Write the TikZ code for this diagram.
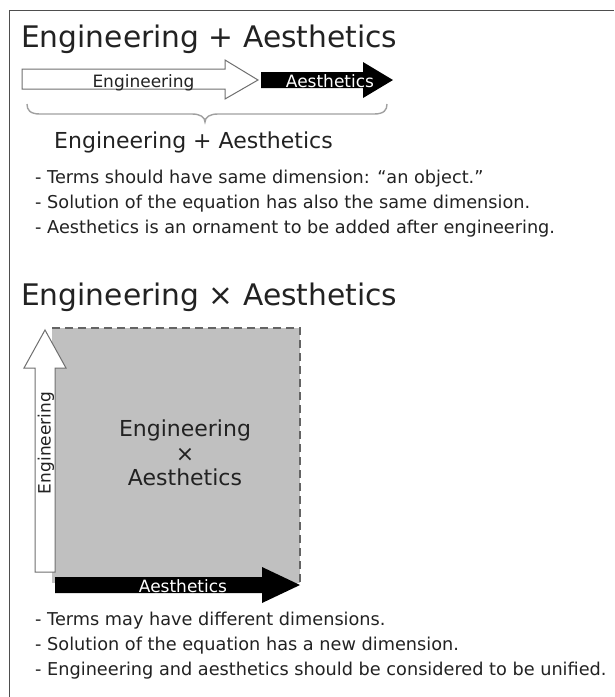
\documentclass[tikz,border=0pt]{standalone}
\usepackage{fontspec}
\setmainfont{DejaVu Sans}
\definecolor{ink}{HTML}{222222}
\definecolor{sqgray}{HTML}{C0C0C0}
\definecolor{bracegray}{HTML}{A0A0A0}
\tikzset{
  frameline/.style={draw=ink!80, line width=1.4pt},
  title/.style={inner sep=0pt, anchor=base west, text=ink, font=\fontsize{29.7}{32}\selectfont},
  subtitle/.style={inner sep=0pt, text=ink, font=\fontsize{22}{24.5}\selectfont},
  bullet/.style={inner sep=0pt, anchor=base west, text=ink, font=\fontsize{17.7}{20}\selectfont},
  lbl/.style={inner sep=0pt, font=\fontsize{17}{19}\selectfont},
  whitearrow/.style={draw=ink!65, fill=white, line width=1pt, line join=miter},
  blackarrow/.style={fill=black},
  bracestyle/.style={draw=bracegray, line width=1.4pt},
  sqbox/.style={fill=sqgray},
  sqborder/.style={draw=ink!70, line width=1.5pt, dash pattern=on 8pt off 5pt}
}
\begin{document}
\begin{tikzpicture}[x=1pt,y=-1pt]
\useasboundingbox (0,0) rectangle (614,697);
\fill[white] (0,0) rectangle (614,697);
\draw[frameline] (9.5,697) -- (9.5,10.5) -- (614,10.5);

% ---- top section
\node[title] (t1) at (21,47) {Engineering + Aesthetics};

\draw[whitearrow] (22,69) -- (225,69) -- (225,60) -- (258,80) -- (225,99) -- (225,89) -- (22,89) -- cycle;
\fill[blackarrow] (261,72) -- (363,72) -- (363,62) -- (393,80) -- (363,98) -- (363,88) -- (261,88) -- cycle;
\node[lbl, anchor=base, text=ink] (e1) at (143.5,87) {Engineering};
\node[lbl, anchor=base, text=white] (a1) at (330,87) {Aesthetics};

\draw[bracestyle] (27,104) .. controls (27,110) and (30,114) .. (40,114) -- (192,114)
  .. controls (200,114) and (205,117) .. (205,122)
  .. controls (205,117) and (210,114) .. (218,114) -- (374,114)
  .. controls (384,114) and (387,110) .. (387,104);

\node[subtitle, anchor=base west] (s1) at (54,148) {Engineering + Aesthetics};

\node[bullet] (b1) at (35,183) {- Terms should have same dimension: “an object.”};
\node[bullet] (b2) at (35,208) {- Solution of the equation has also the same dimension.};
\node[bullet] (b3) at (35,233) {- Aesthetics is an ornament to be added after engineering.};

% ---- bottom section
\node[title] (t2) at (21,305) {Engineering × Aesthetics};

\fill[sqbox] (52,328) rectangle (300,583);
\draw[sqborder] (52,328) -- (300,328) -- (300,583);

\draw[whitearrow] (35,572) -- (35,368) -- (24,368) -- (45,330) -- (66,368) -- (55,368) -- (55,572) -- cycle;
\node[lbl, rotate=90, text=ink] (e2) at (46,443) {Engineering};

\fill[blackarrow] (55,577) -- (262,577) -- (262,567) -- (300,585) -- (262,603) -- (262,593) -- (55,593) -- cycle;
\node[lbl, text=white] (a2) at (183,586) {Aesthetics};

\node[subtitle, align=center] (c) at (185,453) {Engineering\\×\\Aesthetics};

\node[bullet] (d1) at (35,625) {- Terms may have different dimensions.};
\node[bullet] (d2) at (35,650) {- Solution of the equation has a new dimension.};
\node[bullet] (d3) at (35,675) {- Engineering and aesthetics should be considered to be unified.};
\end{tikzpicture}
\end{document}
